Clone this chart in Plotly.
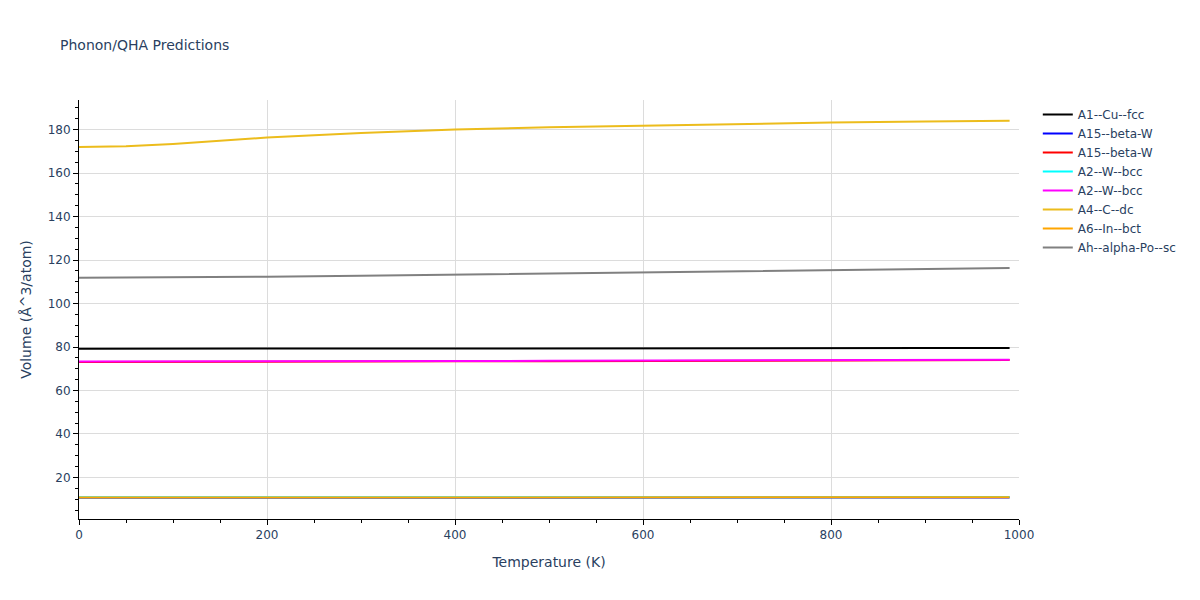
import plotly.graph_objects as go

temps = [0, 50, 100, 150, 200, 300, 400, 500, 600, 700, 800, 900, 990]

series_names = ["A1--Cu--fcc", "A15--beta-W", "A15--beta-W", "A2--W--bcc", "A2--W--bcc",
                "A4--C--dc", "A6--In--bct", "Ah--alpha-Po--sc"]
colors = ["black", "blue", "red", "cyan", "magenta", "#ecbc1c", "orange", "grey"]

a1_cu_fcc = [79.2, 79.2, 79.21, 79.22, 79.24, 79.27, 79.31, 79.35, 79.39, 79.43, 79.47, 79.51, 79.55]
a15_beta_w_1 = [10.68, 10.68, 10.68, 10.68, 10.69, 10.7, 10.71, 10.72, 10.73, 10.74, 10.75, 10.76, 10.77]
a15_beta_w_2 = [73.15, 73.15, 73.17, 73.2, 73.24, 73.32, 73.41, 73.5, 73.6, 73.7, 73.8, 73.9, 74.0]
a2_w_bcc_1 = [10.88, 10.88, 10.88, 10.88, 10.89, 10.9, 10.91, 10.92, 10.93, 10.94, 10.95, 10.96, 10.97]
a2_w_bcc_2 = [73.3, 73.3, 73.32, 73.35, 73.39, 73.47, 73.56, 73.65, 73.75, 73.85, 73.95, 74.05, 74.15]
a4_c_dc = [172.0, 172.3, 173.4, 174.9, 176.3, 178.4, 180.0, 181.1, 181.9, 182.6, 183.2, 183.7, 184.1]
a6_in_bct = [10.78, 10.78, 10.78, 10.78, 10.79, 10.8, 10.81, 10.82, 10.83, 10.84, 10.85, 10.86, 10.87]
ah_alpha_po_sc = [111.8, 111.9, 112.0, 112.1, 112.3, 112.8, 113.3, 113.8, 114.3, 114.8, 115.3, 115.8, 116.3]

series_values = [a1_cu_fcc, a15_beta_w_1, a15_beta_w_2, a2_w_bcc_1, a2_w_bcc_2,
                 a4_c_dc, a6_in_bct, ah_alpha_po_sc]

fig = go.Figure()
for name, col, vals in zip(series_names, colors, series_values):
    fig.add_trace(go.Scatter(x=temps, y=vals, mode="lines", name=name,
                             line=dict(color=col, width=2)))

axis_common = dict(
    showline=True, linecolor="black", linewidth=1,
    ticks="outside", tickcolor="black", ticklen=5,
    showgrid=True, gridcolor="#dcdcdc", gridwidth=1,
    zeroline=False, automargin=False,
    tickfont=dict(size=12, color="#2a3f5f"),
)

fig.update_layout(
    width=1200, height=600,
    paper_bgcolor="white", plot_bgcolor="white",
    font=dict(family="Verdana, DejaVu Sans, sans-serif", color="#2a3f5f", size=12),
    title=dict(text="Phonon/QHA Predictions", x=52 / 1200, xanchor="left",
               y=1 - 37 / 600, yanchor="middle",
               font=dict(size=14, color="#2a3f5f")),
    margin=dict(l=71, r=189, t=92, b=89),
    legend=dict(x=1.02, y=1.0, xanchor="left", yanchor="top", font=dict(size=12)),
    xaxis=dict(title=dict(text="Temperature (K)", font=dict(size=14)),
               range=[0, 1000], dtick=200,
               minor=dict(ticks="outside", dtick=50, ticklen=3, tickcolor="black", showgrid=False),
               **axis_common),
    yaxis=dict(title=dict(text="Volume (Å^3/atom)", font=dict(size=14), standoff=12),
               range=[0.9, 193.6], dtick=20,
               minor=dict(ticks="outside", dtick=5, ticklen=3, tickcolor="black", showgrid=False),
               **axis_common),
)

fig.write_html("out.html")
